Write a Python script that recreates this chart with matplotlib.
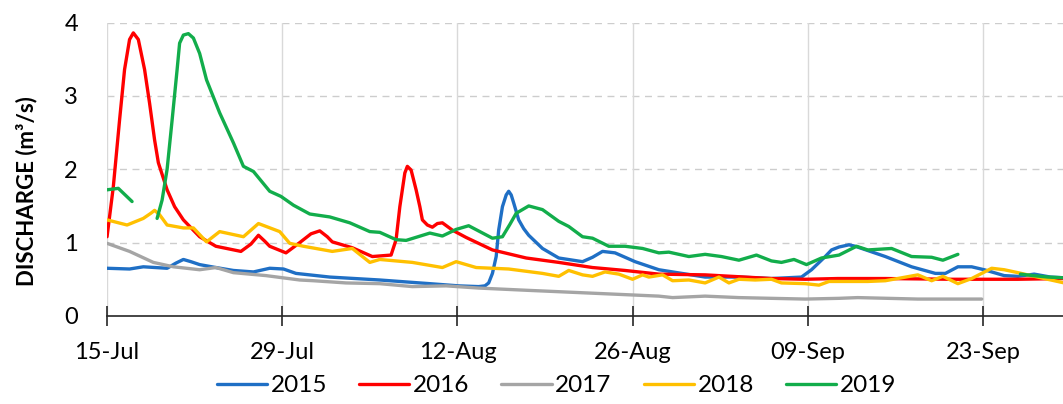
"""Daily discharge, 15 Jul - late Sep, for the five seasons 2015-2019."""

import matplotlib

matplotlib.use("Agg")
import numpy as np
import matplotlib.pyplot as plt

# x values are days after 15-Jul
days_2015 = [0, 1.8, 2.9, 4.8, 5.5, 6.1, 6.7, 7.4, 8.7, 10.1, 11.7, 13.0, 14.1, 15.1, 17.8,
             21.8, 25.8, 28.1, 29.7, 30.2, 30.5, 30.8, 31.1, 31.3, 31.6, 31.9, 32.1, 32.3,
             32.5, 32.9, 33.3, 33.7, 34.8, 36.1, 38.0, 38.8, 39.6, 40.6, 42.2, 44.1,
             45.2, 47.8, 50.5, 53.1, 55.5, 56.3, 57.4, 57.9, 58.5, 59.3, 59.8, 61.0,
             62.2, 64.3, 66.2, 67.0, 68.0, 69.1, 70.1, 71.7, 72.8, 74.1, 75.4, 76.5]
q_2015 = [0.65, 0.64, 0.67, 0.65, 0.72, 0.77, 0.74, 0.70, 0.66, 0.62, 0.60, 0.65, 0.64,
          0.58, 0.53, 0.49, 0.44, 0.41, 0.40, 0.41, 0.45, 0.58, 0.81, 1.17, 1.49, 1.65,
          1.70, 1.65, 1.54, 1.31, 1.19, 1.10, 0.92, 0.79, 0.74, 0.80, 0.88, 0.86, 0.74,
          0.63, 0.60, 0.53, 0.53, 0.51, 0.53, 0.63, 0.81, 0.90, 0.94, 0.97, 0.95, 0.88,
          0.81, 0.67, 0.58, 0.58, 0.67, 0.67, 0.63, 0.55, 0.54, 0.57, 0.53, 0.52]

days_2016 = [0, 0.5, 1.0, 1.4, 1.8, 2.1, 2.5, 3.0, 3.4, 3.8, 4.1, 4.8, 5.4, 6.1, 7.4, 8.7,
             10.7, 11.5, 12.1, 12.6, 13.0, 14.3, 15.4, 16.3, 17.0, 17.6, 18.0, 19.6,
             21.2, 22.7, 23.1, 23.4, 23.8, 24.0, 24.3, 24.7, 25.0, 25.2, 25.6, 26.0,
             26.4, 26.8, 27.6, 28.7, 30.8, 33.5, 36.1, 38.8, 41.4, 44.1, 47.8, 53.1,
             55.8, 58.4, 62.2, 67.5, 72.8, 76.5]
q_2016 = [1.08, 1.76, 2.67, 3.36, 3.77, 3.86, 3.77, 3.36, 2.90, 2.40, 2.09, 1.72, 1.49,
          1.31, 1.08, 0.95, 0.88, 0.98, 1.10, 1.02, 0.95, 0.86, 1.00, 1.12, 1.16, 1.08,
          1.01, 0.93, 0.81, 0.83, 1.04, 1.49, 1.95, 2.04, 1.99, 1.72, 1.49, 1.31, 1.24,
          1.21, 1.26, 1.27, 1.17, 1.07, 0.90, 0.79, 0.73, 0.66, 0.62, 0.57, 0.56, 0.51,
          0.50, 0.51, 0.51, 0.50, 0.50, 0.51]

days_2017 = [0, 1.8, 3.7, 5.3, 7.4, 8.7, 10.1, 12.7, 15.4, 16.5, 19.1, 21.8, 24.4, 27.1,
             29.7, 33.5, 38.8, 44.1, 45.2, 47.8, 50.5, 53.1, 55.8, 58.5, 60.0, 64.8, 69.9]
q_2017 = [0.99, 0.88, 0.73, 0.67, 0.63, 0.66, 0.59, 0.55, 0.49, 0.48, 0.45, 0.44, 0.40,
          0.41, 0.38, 0.35, 0.31, 0.27, 0.25, 0.27, 0.25, 0.24, 0.23, 0.24, 0.25, 0.23,
          0.23]

days_2018 = [0, 1.6, 2.9, 3.5, 3.8, 4.2, 4.8, 6.1, 6.9, 7.95, 9.0, 10.9, 12.1, 13.8, 14.6,
             15.7, 18.0, 19.6, 21.0, 21.8, 24.4, 26.8, 27.9, 29.5, 32.1, 34.8, 36.1,
             36.9, 38.0, 38.8, 39.8, 40.9, 42.0, 42.8, 43.3, 44.4, 45.2, 46.5, 47.8,
             48.9, 49.7, 50.5, 51.8, 53.1, 53.9, 55.8, 56.9, 57.7, 60.8, 62.2, 64.8,
             65.9, 66.8, 68.0, 69.1, 70.7, 71.7, 72.8, 74.1, 76.5]
q_2018 = [1.31, 1.24, 1.33, 1.40, 1.44, 1.38, 1.24, 1.20, 1.20, 1.01, 1.15, 1.08, 1.26,
          1.15, 0.99, 0.95, 0.88, 0.92, 0.73, 0.77, 0.73, 0.66, 0.74, 0.66, 0.64, 0.58,
          0.54, 0.62, 0.56, 0.54, 0.60, 0.57, 0.50, 0.56, 0.53, 0.56, 0.48, 0.49, 0.45,
          0.53, 0.45, 0.50, 0.49, 0.50, 0.45, 0.44, 0.42, 0.47, 0.47, 0.48, 0.56, 0.48,
          0.54, 0.44, 0.51, 0.65, 0.63, 0.59, 0.54, 0.45]

# 2019 has two gaps (nan)
days_2019 = [0, 0.9, 2.0, 2.5,
             4.0, 4.4, 4.8, 5.2, 5.6, 5.8, 6.1, 6.5, 6.9, 7.4, 7.95, 9.0, 10.1, 10.9, 11.7,
             13.0, 13.9, 14.9, 16.2, 17.8, 19.4, 21.0, 21.8, 23.1, 23.9, 25.8, 26.8,
             27.9, 28.9, 30.8, 31.6, 32.2, 32.7, 33.7, 34.8, 36.1, 36.9, 38.0, 38.8,
             40.1, 41.4, 42.8, 44.1, 44.9, 46.5, 47.8, 49.1, 50.5, 51.9, 53.1, 53.9,
             54.9, 55.9, 57.1, 58.5, 59.9, 60.8, 62.7, 64.3, 65.9, 66.8, 68.0, 70.0,
             73.0, 74.0, 75.2, 76.5]
q_2019 = [1.72, 1.74, 1.56, np.nan,
          1.33, 1.58, 2.00, 2.67, 3.36, 3.72, 3.83, 3.85, 3.79, 3.58, 3.22, 2.77, 2.36, 2.04,
          1.97, 1.70, 1.63, 1.51, 1.39, 1.35, 1.27, 1.15, 1.14, 1.04, 1.03, 1.13, 1.09,
          1.18, 1.23, 1.06, 1.08, 1.25, 1.40, 1.50, 1.45, 1.29, 1.22, 1.08, 1.06, 0.95,
          0.95, 0.92, 0.86, 0.87, 0.81, 0.84, 0.81, 0.76, 0.83, 0.75, 0.73, 0.77, 0.70,
          0.79, 0.83, 0.95, 0.90, 0.92, 0.81, 0.80, 0.76, 0.84, np.nan,
          0.57, 0.55, 0.53, 0.52]

years = ["2015", "2016", "2017", "2018", "2019"]
colors = ["#1F6FC5", "#FF0000", "#A5A5A5", "#FFC000", "#12AD4B"]
series = [(days_2015, q_2015), (days_2016, q_2016), (days_2017, q_2017),
          (days_2018, q_2018), (days_2019, q_2019)]

tick_days = [0, 14, 28, 42, 56, 70]
tick_labels = ["15-Jul", "29-Jul", "12-Aug", "26-Aug", "09-Sep", "23-Sep"]

plt.rcParams["font.family"] = ["Lato", "DejaVu Sans"]

fig = plt.figure(figsize=(10.63, 4.04), dpi=100)
ax = fig.add_axes([0.1007, 0.218, 0.8993, 0.726])

for (d, q), year, c in zip(series, years, colors):
    ax.plot(d, q, color=c, linewidth=2.4, label=year, solid_joinstyle="round",
            solid_capstyle="round")

ax.set_xlim(0, 76.4)
ax.set_ylim(0, 4)
ax.set_xticks(tick_days)
ax.set_xticklabels(tick_labels)
ax.set_yticks([0, 1, 2, 3, 4])

for y in [1, 2, 3, 4]:
    ax.axhline(y, color="#CDCDCD", linewidth=1.0, linestyle=(0, (5, 4)), zorder=0)
for x in tick_days:
    ax.axvline(x, color="#D9D9D9", linewidth=1.0, zorder=0)

for s in ["top", "right", "left"]:
    ax.spines[s].set_visible(False)
ax.spines["bottom"].set_color("#262626")
ax.spines["bottom"].set_linewidth(1.2)
ax.spines["bottom"].set_clip_on(False)

ax.tick_params(axis="x", direction="inout", length=14, width=1.2, color="#262626",
               labelsize=17, pad=12)
ax.tick_params(axis="y", length=0, labelsize=17, pad=21)

ax.set_ylabel("DISCHARGE (m³/s)", fontsize=16, fontweight="bold", labelpad=19.5)
ax.yaxis.label.set_y(0.425)

fig.legend(loc="center", bbox_to_anchor=(0.5235, 0.045), ncol=5, frameon=False,
           fontsize=17.5, handlelength=2.06, handletextpad=0.15, columnspacing=1.32)

fig.savefig("out.png", dpi=100)
